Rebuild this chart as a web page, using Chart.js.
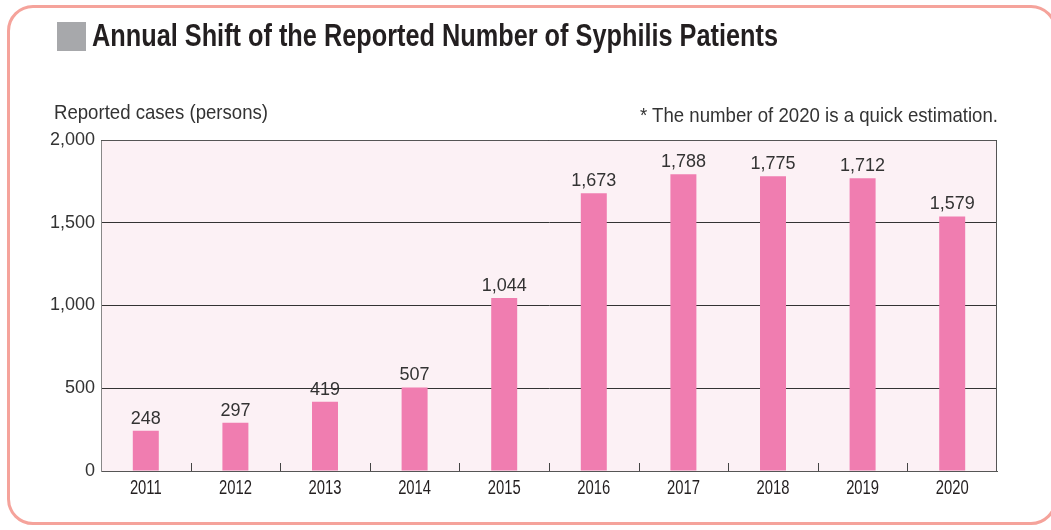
<!DOCTYPE html>
<html>
<head>
<meta charset="utf-8">
<script src="https://cdn.jsdelivr.net/npm/chart.js@4/dist/chart.umd.min.js"></script>
<style>
  html, body { margin: 0; padding: 0; background: #fff; }
  #wrap { position: relative; width: 1051px; height: 530px; overflow: hidden; }
  #frame {
    position: absolute; left: 7px; top: 5px; width: 1050px; height: 520px;
    border: 3px solid #f5a39b; border-radius: 26px; box-sizing: border-box;
  }
  #chart { position: absolute; left: 0; top: 0; }
  .txt { position: absolute; white-space: nowrap; color: #231f20; transform-origin: 0 0; }
  #mark { position: absolute; left: 57px; top: 22px; width: 29px; height: 29px; background: #a7a8ab; }
  #title { left: 92px; top: 17px; font: bold 32px "Liberation Sans", Arial, sans-serif; }
  #yname { left: 54px; top: 100px; font: 21px "Liberation Sans", Arial, sans-serif; color: #333; }
  #note { left: 640px; top: 103px; font: 21px "Liberation Sans", Arial, sans-serif; color: #333; }
</style>
</head>
<body>
<div id="wrap">
  <div id="frame"></div>
  <canvas id="chart" width="1051" height="530"></canvas>
  <div id="mark"></div>
  <div class="txt" id="title" data-w="686">Annual Shift of the Reported Number of Syphilis Patients</div>
  <div class="txt" id="yname" data-w="214">Reported cases (persons)</div>
  <div class="txt" id="note" data-w="358">* The number of 2020 is a quick estimation.</div>
</div>
<script>
const years = ['2011', '2012', '2013', '2014', '2015', '2016', '2017', '2018', '2019', '2020'];
// bar heights as drawn in the picture
const barHeights = [243, 292, 419, 505, 1046, 1678, 1793, 1781, 1769, 1538];
// numbers printed above the bars
const barLabels = ['248', '297', '419', '507', '1,044', '1,673', '1,788', '1,775', '1,712', '1,579'];
const yTicks = [0, 500, 1000, 1500, 2000];

// squeeze the html texts to the widths in the reference
for (const el of document.querySelectorAll('.txt')) {
  const target = Number(el.dataset.w);
  const w = el.getBoundingClientRect().width;
  el.style.transform = 'scaleX(' + (target / w) + ')';
}

const plotBackground = {
  id: 'plotBackground',
  beforeDraw(chart) {
    const { ctx, chartArea: a } = chart;
    ctx.save();
    ctx.fillStyle = '#fcf1f5';
    ctx.fillRect(a.left, a.top, a.right - a.left, a.bottom - a.top);
    ctx.restore();
  },
  afterDatasetsDraw(chart) {
    const { ctx, chartArea: a } = chart;
    const xScale = chart.scales.x;
    ctx.save();
    // frame
    ctx.strokeStyle = '#555';
    ctx.lineWidth = 1;
    ctx.beginPath();
    ctx.moveTo(a.left, a.top + 0.5);
    ctx.lineTo(a.right - 0.5, a.top + 0.5);
    ctx.lineTo(a.right - 0.5, a.bottom);
    ctx.stroke();
    // small ticks between categories
    ctx.strokeStyle = '#444';
    for (let i = 1; i < years.length; i++) {
      const x = Math.round((xScale.getPixelForValue(i - 1) + xScale.getPixelForValue(i)) / 2) + 0.5;
      ctx.beginPath();
      ctx.moveTo(x, a.bottom - 8);
      ctx.lineTo(x, a.bottom);
      ctx.stroke();
    }
    // value labels
    ctx.fillStyle = '#333';
    ctx.font = '18px "Liberation Sans", sans-serif';
    ctx.textAlign = 'center';
    ctx.textBaseline = 'middle';
    chart.getDatasetMeta(0).data.forEach((bar, i) => {
      ctx.fillText(barLabels[i], bar.x, bar.y - 12);
    });
    // condensed year labels
    ctx.fillStyle = '#231f20';
    ctx.font = '20px "Liberation Sans", sans-serif';
    years.forEach((year, i) => {
      const x = xScale.getPixelForValue(i);
      ctx.save();
      ctx.translate(x, a.bottom + 17);
      ctx.scale(0.74, 1);
      ctx.fillText(year, 0, 0);
      ctx.restore();
    });
    ctx.restore();
  },
};

new Chart(document.getElementById('chart'), {
  type: 'bar',
  data: {
    labels: years,
    datasets: [
      {
        data: barHeights,
        backgroundColor: '#f07db0',
        barPercentage: 0.29,
        categoryPercentage: 1,
      },
    ],
  },
  options: {
    responsive: false,
    animation: false,
    layout: { padding: { top: 140, left: 0, right: 54, bottom: 0 } },
    plugins: {
      legend: { display: false },
      tooltip: { enabled: false },
    },
    scales: {
      x: {
        grid: { display: false },
        border: { color: '#555', width: 1 },
        ticks: { display: false },
        afterFit(scale) { scale.height = 59; },
      },
      y: {
        min: 0,
        max: 2000,
        afterBuildTicks(scale) { scale.ticks = yTicks.map((v) => ({ value: v })); },
        grid: { color: '#333', drawTicks: false },
        border: { color: '#888', width: 1 },
        ticks: {
          color: '#333',
          padding: 6,
          font: { family: '"Liberation Sans", sans-serif', size: 18 },
          callback: (v) => v.toLocaleString('en-US'),
        },
        afterFit(scale) { scale.width = 101; },
      },
    },
  },
  plugins: [plotBackground],
});
</script>
</body>
</html>
